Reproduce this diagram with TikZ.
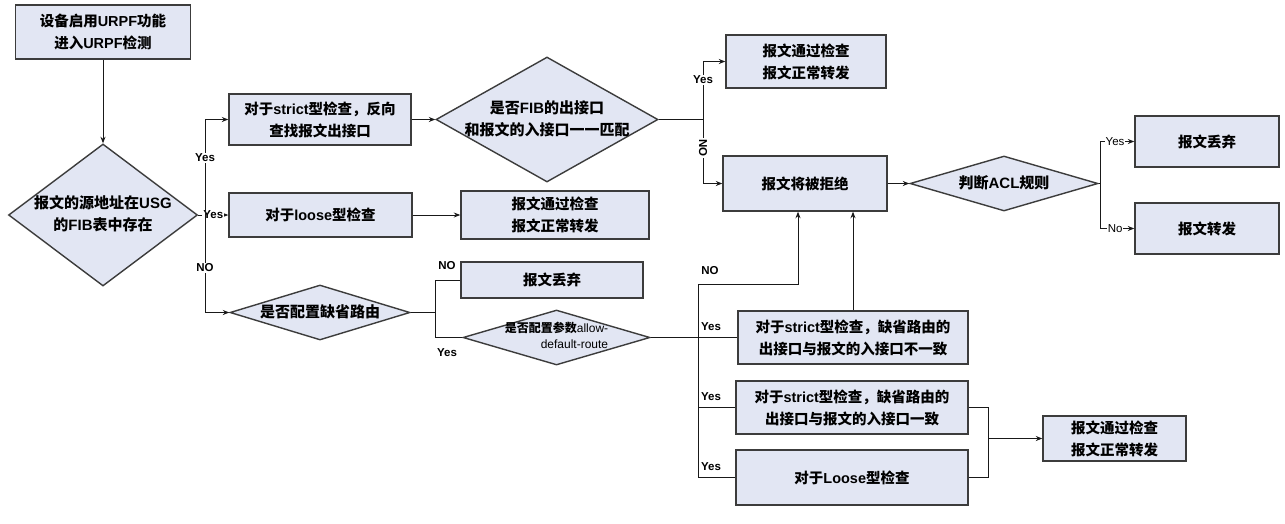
\documentclass[tikz,border=0pt]{standalone}
\usepackage{fontspec}
\setmainfont{Liberation Sans}
\newfontfamily\cjk{Noto Sans CJK SC}
\usetikzlibrary{arrows.meta,shapes.geometric}
\newcommand\zh[1]{{\cjk #1}}
\newcommand\dt[1]{\makebox[0pt]{\raisebox{-4pt}[0pt][0pt]{\begin{tabular}{@{}c@{}}#1\end{tabular}}}}
\newcommand\dtr[1]{\makebox[0pt]{\raisebox{-3pt}[0pt][0pt]{\begin{tabular}{@{}r@{}}#1\end{tabular}}}}
\definecolor{boxfill}{RGB}{226,230,243}
\definecolor{boxline}{RGB}{60,60,60}
\definecolor{wirec}{RGB}{25,25,25}
\tikzset{
  box/.style={draw=boxline, line width=1.4pt, fill=boxfill, inner sep=0pt, align=center,
    font=\fontsize{14.5}{22}\selectfont\bfseries, text=black},
  dia/.style={draw=boxline, line width=1.4pt, fill=boxfill, shape=diamond, inner sep=0pt,
    font=\fontsize{15}{22}\selectfont\bfseries, text=black},
  wire/.style={draw=wirec, line width=1pt},
  arr/.style={wire, -{Stealth[length=6.5pt,width=5pt]}},
  lab/.style={font=\fontsize{11.5}{12}\selectfont\bfseries, fill=white, inner sep=1pt},
  labn/.style={font=\fontsize{11.5}{12}\selectfont\bfseries, inner sep=0pt},
  labr/.style={font=\fontsize{11.5}{12}\selectfont, fill=white, inner sep=1pt},
}
\begin{document}
\begin{tikzpicture}[x=1pt,y=-1pt]
\useasboundingbox (0,0) rectangle (1285,523);
\fill[white] (0,0) rectangle (1285,523);
% nodes
\node[box, minimum width=175pt, minimum height=54pt] (A) at (103,32) {\zh{设备启用}URPF\zh{功能}\\\zh{进入}URPF\zh{检测}};
\node[dia, minimum width=189pt, minimum height=142pt] (B) at (103,215) {\dt{\zh{报文的源地址在}USG\\\zh{的}FIB\zh{表中存在}}};
\node[box, minimum width=182pt, minimum height=51pt] (C) at (320,119.5) {\zh{对于}strict\zh{型检查，反向}\\\zh{查找报文出接口}};
\node[box, minimum width=183pt, minimum height=44pt] (D) at (320.5,215) {\zh{对于}loose\zh{型检查}};
\node[box, minimum width=188pt, minimum height=48pt] (E) at (555,215) {\zh{报文通过检查}\\\zh{报文正常转发}};
\node[dia, minimum width=222pt, minimum height=125pt] (F) at (547,119.5) {\dt{\zh{是否}FIB\zh{的出接口}\\\zh{和报文的入接口一一匹配}}};
\node[box, minimum width=160pt, minimum height=53pt] (G) at (806,61.5) {\zh{报文通过检查}\\\zh{报文正常转发}};
\node[box, minimum width=164pt, minimum height=55pt] (H) at (805,183.5) {\zh{报文将被拒绝}};
\node[dia, minimum width=188pt, minimum height=55pt] (I) at (1004,183.5) {\dt{\zh{判断}ACL\zh{规则}}};
\node[box, minimum width=144pt, minimum height=51pt] (J) at (1207,141.5) {\zh{报文丢弃}};
\node[box, minimum width=144pt, minimum height=51pt] (K) at (1207,228.5) {\zh{报文转发}};
\node[dia, minimum width=180pt, minimum height=55pt] (L) at (320,312.5) {\dt{\zh{是否配置缺省路由}}};
\node[box, minimum width=182pt, minimum height=36pt] (M) at (552,280) {\zh{报文丢弃}};
\node[dia, minimum width=187pt, minimum height=55pt, font=\fontsize{12}{16}\selectfont] (N) at (556.5,337.5) {\dtr{{\bfseries\zh{是否配置参数}}allow-\\default-route}};
\node[box, minimum width=230pt, minimum height=53pt] (O) at (853,337.5) {\zh{对于}strict\zh{型检查，缺省路由的}\\\zh{出接口与报文的入接口不一致}};
\node[box, minimum width=232pt, minimum height=53pt] (P) at (852,407.5) {\zh{对于}strict\zh{型检查，缺省路由的}\\\zh{出接口与报文的入接口一致}};
\node[box, minimum width=232pt, minimum height=55pt] (Q) at (852,477.5) {\zh{对于}Loose\zh{型检查}};
\node[box, minimum width=143pt, minimum height=45pt] (R) at (1114.5,438.5) {\zh{报文通过检查}\\\zh{报文正常转发}};
% junctions
\coordinate (jB) at (205,215);
\coordinate (jF) at (703,119.5);
\coordinate (jI) at (1100,183.5);
\coordinate (jL) at (435,312.5);
\coordinate (jN1) at (698,284);
\coordinate (jN2) at (698,477.5);
\coordinate (jR) at (988,438.5);
% connectors
\draw[arr] (A) -- (B);
\draw[arr] (B.east) -- node[lab, pos=0.5] {Yes} (D.west);
\draw[arr] (jB) |- (C.west);
\draw[arr] (jB) |- (L.west);
\node[lab] at (205,158) {Yes};
\node[lab] at (205,268) {NO};
\draw[arr] (D) -- (E);
\draw[arr] (C) -- (F);
\draw[wire] (F.east) -- (jF);
\draw[arr] (jF) |- (G.west);
\draw[arr] (jF) |- (H.west);
\node[lab] at (703,80) {Yes};
\node[lab, rotate=-90] at (703,148) {NO};
\draw[arr] (H) -- (I);
\draw[wire] (I.east) -- (jI);
\draw[arr] (jI) |- node[labr, pos=0.72] {Yes} (J.west);
\draw[arr] (jI) |- node[labr, pos=0.72] {No} (K.west);
\draw[wire] (L.east) -- (jL) |- (M.west);
\draw[wire] (jL) |- (N.west);
\node[labn] at (447,266) {NO};
\node[labn] at (447,353) {Yes};
\draw[wire] (N.east) -- (O.west);
\draw[arr] (jN1) -| ([xshift=-7pt]H.south);
\draw[wire] (jN1) -- (jN2) -- (Q.west);
\draw[wire] (P.west -| jN1) -- (P.west);
\draw[arr] (O.north) -- (O.north |- H.south);
\node[labn] at (710,271) {NO};
\node[labn] at (711,327) {Yes};
\node[labn] at (711,397) {Yes};
\node[labn] at (711,467) {Yes};
\draw[wire] (P.east) -| (jR);
\draw[wire] (Q.east) -| (jR);
\draw[arr] (jR) -- (R.west);
\end{tikzpicture}
\end{document}
